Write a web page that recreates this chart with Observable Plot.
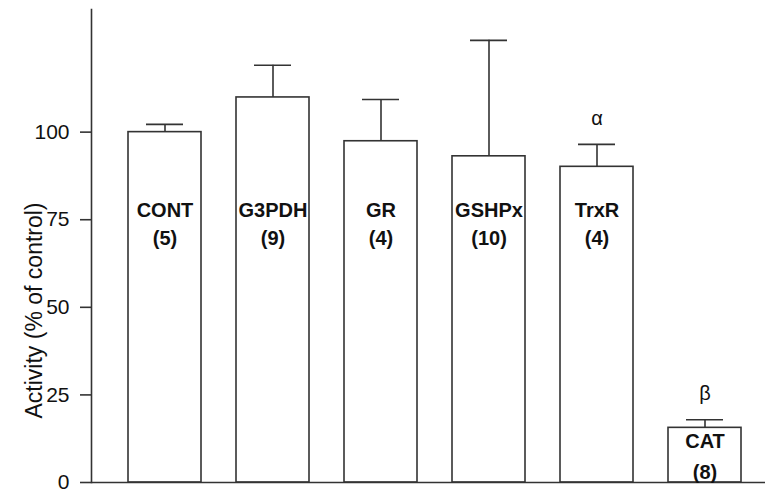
<!DOCTYPE html>
<html>
<head>
<meta charset="utf-8">
<script src="https://cdn.jsdelivr.net/npm/d3@7"></script>
<script src="https://cdn.jsdelivr.net/npm/@observablehq/plot@0.6"></script>
<style>
  html, body { margin: 0; padding: 0; background: #fff; }
  #chart svg { display: block; }
</style>
</head>
<body>
<div id="chart"></div>
<script>
const enzymes = ["CONT", "G3PDH", "GR", "GSHPx", "TrxR", "CAT"];
const nLabels = ["(5)", "(9)", "(4)", "(10)", "(4)", "(8)"];
const activity = [100, 109.9, 97.4, 93.1, 90.1, 15.6];
const errorTop = [102.2, 119.1, 109.3, 126.2, 96.5, 17.9];
const sigMarks = ["", "", "", "", "α", "β"];
const yTicks = [0, 25, 50, 75, 100];
const yLabel = "Activity (% of control)";

const rows = enzymes.map((e, i) => ({
  enzyme: e,
  n: nLabels[i],
  value: activity[i],
  err: errorTop[i],
  sig: sigMarks[i],
  nameY: activity[i] > 50 ? 77.6 : activity[i] - 4,
  nY: activity[i] > 50 ? 69.7 : activity[i] - 12.7
}));

const font = "Arial, 'Liberation Sans', Helvetica, sans-serif";
const ink = "#333";
const W = 765, ML = 91, MR = 0;
const frameW = W - ML - MR;

const chart = Plot.plot({
  width: W,
  height: 496,
  marginLeft: ML,
  marginRight: MR,
  marginTop: 9,
  marginBottom: 14,
  style: { fontFamily: font, background: "#fff", color: "#111" },
  x: { domain: enzymes, paddingInner: 0.327, paddingOuter: 0.27, align: 0.603, axis: null },
  y: { domain: [0, 135], axis: null },
  marks: [
    Plot.barY(rows, { x: "enzyme", y: "value", fill: "#fff", stroke: ink, strokeWidth: 1.6 }),
    Plot.ruleX(rows, { x: "enzyme", y1: "value", y2: "err", stroke: ink, strokeWidth: 1.6 }),
    Plot.tickY(rows, { x: "enzyme", y: "err", stroke: ink, strokeWidth: 1.6, insetLeft: 18, insetRight: 18 }),
    Plot.ruleY([0], { stroke: ink, strokeWidth: 1.6 }),
    Plot.tickY(yTicks, { y: d => d, stroke: ink, strokeWidth: 1.6, insetLeft: -11, insetRight: frameW }),
    Plot.text(yTicks, { y: d => d, text: d => String(d), frameAnchor: "left", textAnchor: "end", dx: -22, fontSize: 21, fill: "#111" }),
    Plot.frame({ anchor: "left", stroke: ink, strokeWidth: 1.6 }),
    Plot.text(rows, { x: "enzyme", y: "nameY", text: "enzyme", fontSize: 20, fontWeight: "bold", fill: "#111" }),
    Plot.text(rows, { x: "enzyme", y: "nY", text: "n", fontSize: 20, fontWeight: "bold", fill: "#111" }),
    Plot.text(rows.filter(d => d.sig), { x: "enzyme", y: "err", text: "sig", dy: -26, fontSize: 20, fill: "#111" }),
    Plot.text([yLabel], { text: d => d, y: 49.1, frameAnchor: "left", textAnchor: "middle", dx: -57, rotate: -90, fontSize: 23, fill: "#111" })
  ]
});
document.getElementById("chart").appendChild(chart);
</script>
</body>
</html>
